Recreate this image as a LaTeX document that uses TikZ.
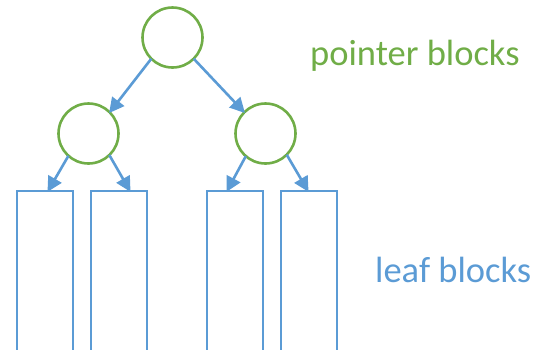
\documentclass[tikz,border=0pt]{standalone}
\usepackage{fontspec}
\setmainfont{Carlito}
\usetikzlibrary{arrows.meta}
\definecolor{pgreen}{HTML}{70AD47}
\definecolor{lblue}{HTML}{5B9BD5}
\begin{document}
\begin{tikzpicture}[x=1pt,y=-1pt,
  ptr/.style={circle,draw=pgreen,line width=2.6pt,minimum size=60pt,inner sep=0pt,outer sep=0pt},
  leafbox/.style={rectangle,draw=lblue,line width=2.6pt,minimum width=56pt,minimum height=200pt,inner sep=0pt,outer sep=0pt},
  link/.style={draw=lblue,line width=2.6pt,-{Triangle[length=15pt,width=15pt]},shorten >=-1pt},
  lbl/.style={anchor=base west,inner sep=0pt,font=\fontsize{36.5}{40}\selectfont}]
\useasboundingbox (0,0) rectangle (534,349);
\clip (0,0) rectangle (534,349);
\node[ptr] (top) at (172.5,37.5) {};
\node[ptr] (ml) at (88.5,133.5) {};
\node[ptr] (mr) at (265.5,133.5) {};
\node[leafbox] (b1) at (45,291) {};
\node[leafbox] (b2) at (119,291) {};
\node[leafbox] (b3) at (235,291) {};
\node[leafbox] (b4) at (309,291) {};
\draw[link] (top.-135) -- (ml.45);
\draw[link] (top.-45) -- (mr.135);
\draw[link] (ml.-132) -- ([xshift=3pt]b1.north);
\draw[link] (ml.-46) -- ([xshift=11pt]b2.north);
\draw[link] (mr.-131) -- ([xshift=-8pt]b3.north);
\draw[link] (mr.-45) -- ([xshift=-1pt]b4.north);
\node[lbl,text=pgreen] (pl) at (310,65) {pointer blocks};
\node[lbl,text=lblue] (ll) at (375,282) {leaf blocks};
\end{tikzpicture}
\end{document}
